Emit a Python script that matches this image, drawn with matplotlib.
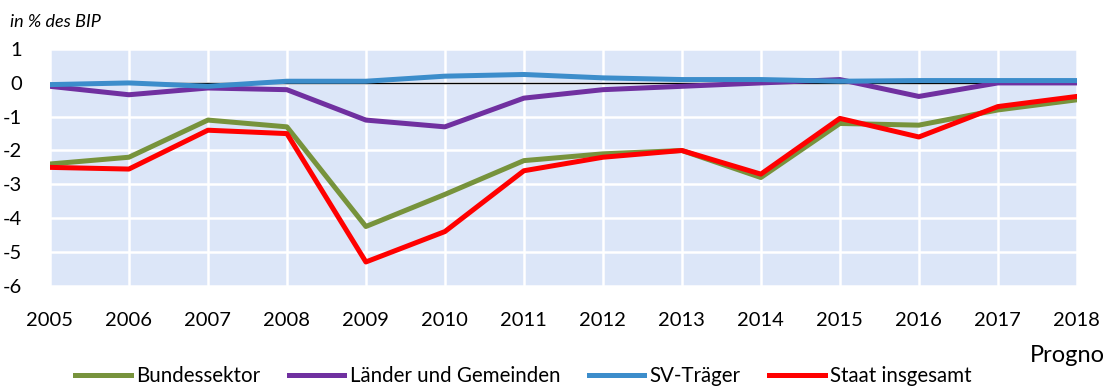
import matplotlib.pyplot as plt
import numpy as np

plt.rcParams['font.family'] = ['Lato', 'DejaVu Sans']
plt.rcParams['axes.unicode_minus'] = False

years = list(range(2005, 2019))
bund = [-2.4, -2.2, -1.1, -1.3, -4.25, -3.3, -2.3, -2.1, -2.0, -2.8, -1.2, -1.25, -0.8, -0.5]
laender = [-0.1, -0.35, -0.15, -0.2, -1.1, -1.3, -0.45, -0.2, -0.1, 0.0, 0.1, -0.4, 0.0, 0.0]
sv = [-0.05, 0.0, -0.1, 0.05, 0.05, 0.2, 0.25, 0.15, 0.1, 0.1, 0.05, 0.07, 0.07, 0.07]
staat = [-2.5, -2.55, -1.4, -1.5, -5.3, -4.4, -2.6, -2.2, -2.0, -2.7, -1.05, -1.6, -0.7, -0.4]

fig = plt.figure(figsize=(11.09, 3.87), dpi=100)
ax = fig.add_axes([0.045, 0.262, 0.926, 0.611])
ax.set_facecolor('#DCE6F8')

lw = 3.6
ax.axhline(0, color='black', lw=1.0, zorder=2)
ax.plot(years, bund, color='#77933C', lw=lw, label='Bundessektor', zorder=3)
ax.plot(years, laender, color='#7030A0', lw=lw, label='Länder und Gemeinden', zorder=3)
ax.plot(years, sv, color='#3C8DCB', lw=lw, label='SV-Träger', zorder=3)
ax.plot(years, staat, color='#FF0000', lw=lw, label='Staat insgesamt', zorder=4)

ax.set_xlim(2005, 2018)
ax.set_ylim(-6, 1)
ax.set_xticks(years)
ax.set_yticks(range(-6, 2))
ax.grid(True, color='white', lw=1.8)
ax.set_axisbelow(True)
for s in ax.spines.values():
    s.set_visible(False)
ax.tick_params(length=0, labelsize=14.5)
ax.tick_params(axis='x', pad=19)
ax.tick_params(axis='y', pad=20)

fig.text(0.009, 0.943, 'in % des BIP', fontsize=13, style='italic', va='center')
fig.text(0.929, 0.082, 'Progno', fontsize=17, va='center')

fig.legend(loc='lower center', bbox_to_anchor=(0.472, -0.045), ncol=4, frameon=False,
           fontsize=14.8, handlelength=2.7, handletextpad=0.25, columnspacing=1.4)

fig.savefig('out.png', dpi=100)
